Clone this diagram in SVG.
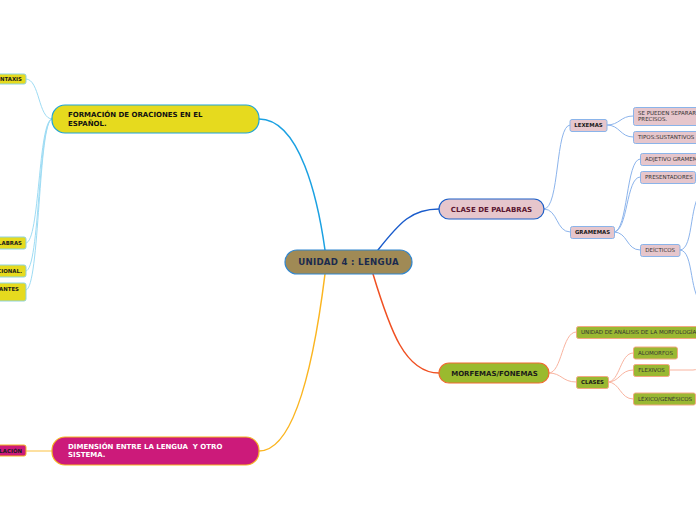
<svg xmlns="http://www.w3.org/2000/svg" width="696" height="520" viewBox="0 0 696 520">
<style>
text{font-family:"DejaVu Sans","Liberation Sans",sans-serif}
.main{font-size:7px;font-weight:bold}
.sm{font-size:5.4px;font-weight:bold;fill:#1a1a1a}
.smr{font-size:5.5px;fill:#333}
.c{fill:none;stroke-linecap:round}
.lb{stroke:#9edcf4;stroke-width:1}
.rb{stroke:#8cb4ec;stroke-width:1}
.ro{stroke:#f9b4a0;stroke-width:1}
.pink{fill:#e6c6cc;stroke:#8ab4ea;stroke-width:1}
.grn{fill:#9ab832;stroke:#f4a882;stroke-width:1}
.yel{fill:#e6da1e;stroke:#8fd3dc;stroke-width:1}
</style>
<rect width="696" height="520" fill="#fff"/>
<g id="connectors">
<path class="c" d="M259,119 C300,119 318,200 325,250" stroke="#1ba1e2" stroke-width="1.5"/>
<path class="c" d="M325,274 C318,330 300,451 259,451" stroke="#fbb520" stroke-width="1.5"/>
<path class="c" d="M378,250 C400,222 412,209 439,209" stroke="#1a5ccc" stroke-width="1.5"/>
<path class="c" d="M373,274 C390,330 405,373 439,373" stroke="#f05022" stroke-width="1.5"/>
<path class="c lb" d="M52,119 C38,119 40,79 26,79"/>
<path class="c lb" d="M52,119 C38,119 40,243 26,243"/>
<path class="c lb" d="M52,119 C38,119 40,271 26,271"/>
<path class="c lb" d="M52,119 C38,119 40,290 26,290"/>
<path class="c" d="M26,451 L52,451" stroke="#fde0a0" stroke-width="2"/>
<path class="c rb" d="M544,209 C560,209 555,125 570,125"/>
<path class="c rb" d="M544,209 C558,209 556,232 570,232"/>
<path class="c rb" d="M607,125 C620,125 620,116 633,116"/>
<path class="c rb" d="M607,125 C620,125 620,137 633,137"/>
<path class="c rb" d="M614,232 C628,232 626,159 640,159"/>
<path class="c rb" d="M614,232 C628,232 626,177 640,177"/>
<path class="c rb" d="M614,232 C628,232 626,250 640,250"/>
<path class="c rb" d="M680,250 C695,250 688,195 705,190"/>
<path class="c rb" d="M680,250 C695,250 688,300 705,305"/>
<path class="c ro" d="M549,373 C562,373 562,332 576,332"/>
<path class="c ro" d="M549,373 C562,373 562,382 576,382"/>
<path class="c ro" d="M608,382 C620,382 620,353 633,353"/>
<path class="c ro" d="M608,382 C620,382 620,370 633,370"/>
<path class="c ro" d="M608,382 C620,382 620,399 633,399"/>
<path class="c ro" d="M669,370 L693,370 C697,370 698,368 700,366"/>
</g>
<g id="central">
<rect x="285" y="250" width="127" height="24" rx="12" fill="#a08a55" stroke="#2f86d0" stroke-width="1.2"/>
<text x="348.5" y="265" text-anchor="middle" font-size="8.6" font-weight="bold" fill="#1b2a4e" letter-spacing="0.3">UNIDAD 4 : LENGUA</text>
</g>
<g id="formacion">
<rect x="52" y="105" width="207" height="28" rx="13" fill="#e6da1e" stroke="#1fa4d8" stroke-width="1.2"/>
<text class="main" x="68" y="117.3" fill="#111">FORMACIÓN DE ORACIONES EN EL</text>
<text class="main" x="68" y="125.8" fill="#111">ESPAÑOL.</text>
</g>
<g id="dimension">
<rect x="52" y="437" width="207" height="28" rx="13" fill="#cc1a7a" stroke="#f5b523" stroke-width="1.2"/>
<text class="main" x="68" y="448.5" fill="#fff" xml:space="preserve">DIMENSIÓN ENTRE LA LENGUA  Y OTRO</text>
<text class="main" x="68" y="457.3" fill="#fff">SISTEMA.</text>
</g>
<g id="clase">
<rect x="439" y="199" width="105" height="20" rx="10" fill="#e6c6cc" stroke="#1d5fc7" stroke-width="1.2"/>
<text class="main" x="491.5" y="211.6" text-anchor="middle" fill="#5a1530">CLASE DE PALABRAS</text>
</g>
<g id="morfemas">
<rect x="439" y="363" width="110" height="20" rx="10" fill="#9aba2e" stroke="#f06a30" stroke-width="1.2"/>
<text class="main" x="494.5" y="375.6" text-anchor="middle" fill="#1a1a1a">MORFEMAS/FONEMAS</text>
</g>
<g id="sintaxis">
<rect x="-40" y="74" width="66" height="10" rx="2" class="yel"/>
<text class="sm" x="22" y="80.8" text-anchor="end">NTAXIS</text>
</g>
<g id="palabras">
<rect x="-40" y="237" width="66" height="12" rx="2" class="yel"/>
<text class="sm" x="22" y="244.8" text-anchor="end">LABRAS</text>
</g>
<g id="cional">
<rect x="-40" y="265" width="66" height="12" rx="2" class="yel"/>
<text class="sm" x="22" y="272.8" text-anchor="end">CIONAL.</text>
</g>
<g id="antes">
<rect x="-40" y="283" width="66" height="18" rx="2" class="yel"/>
<text class="sm" x="19" y="290.8" text-anchor="end">ANTES</text>
</g>
<g id="lacion">
<rect x="-40" y="445" width="66" height="11" rx="2" fill="#cc1a7a" stroke="#f5b523" stroke-width="1"/>
<text class="sm" x="22" y="452.6" text-anchor="end">LACIÓN</text>
</g>
<g id="lexemas">
<rect x="570" y="119.5" width="37" height="12" rx="2" class="pink"/>
<text class="sm" x="588.5" y="127.4" text-anchor="middle">LEXEMAS</text>
</g>
<g id="gramemas">
<rect x="570.5" y="226.5" width="44" height="12" rx="2" class="pink"/>
<text class="sm" x="592.5" y="234.4" text-anchor="middle">GRAMEMAS</text>
</g>
<g id="separar">
<rect x="633.5" y="107.5" width="70" height="18" rx="2" class="pink"/>
<text class="smr" x="638" y="115.3">SE PUEDEN SEPARAR</text>
<text class="smr" x="638" y="121.3">PRECISOS.</text>
</g>
<g id="tipos">
<rect x="633.5" y="131.5" width="70" height="12" rx="2" class="pink"/>
<text class="smr" x="638" y="139.4">TIPOS:SUSTANTIVOS</text>
</g>
<g id="adjetivo">
<rect x="640.5" y="153.5" width="62" height="12" rx="2" class="pink"/>
<text class="smr" x="645" y="161.4">ADJETIVO GRAMEMÁTICO</text>
</g>
<g id="presentadores">
<rect x="640.5" y="171.5" width="55" height="12" rx="2" class="pink"/>
<text class="smr" x="645" y="179.4">PRESENTADORES</text>
</g>
<g id="deicticos">
<rect x="640.5" y="244.5" width="39.5" height="12" rx="2" class="pink"/>
<text class="smr" x="660.2" y="252.4" text-anchor="middle">DEÍCTICOS</text>
</g>
<g id="unidad">
<rect x="576.5" y="326.5" width="125" height="12" rx="2" class="grn"/>
<text class="smr" x="581" y="334.4">UNIDAD DE ANÁLISIS DE LA MORFOLOGÍA</text>
</g>
<g id="clases">
<rect x="576.5" y="376.5" width="32" height="12" rx="2" class="grn"/>
<text class="sm" x="592.5" y="384.4" text-anchor="middle">CLASES</text>
</g>
<g id="alomorfos">
<rect x="633.5" y="347" width="44" height="12" rx="2" class="grn"/>
<text class="smr" x="655.5" y="354.9" text-anchor="middle">ALOMORFOS</text>
</g>
<g id="flexivos">
<rect x="633.5" y="364.5" width="36" height="12" rx="2" class="grn"/>
<text class="smr" x="651.5" y="372.4" text-anchor="middle">FLEXIVOS</text>
</g>
<g id="lexico">
<rect x="633.5" y="393" width="62" height="12" rx="2" class="grn"/>
<text class="smr" x="638" y="400.9">LÉXICO/GENÉSICOS</text>
</g>
</svg>
